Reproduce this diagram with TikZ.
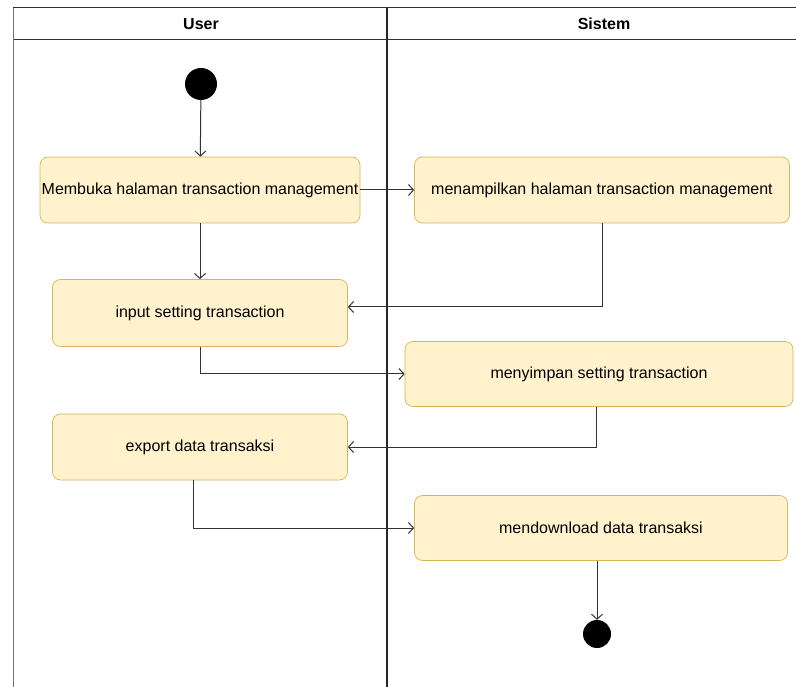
\documentclass[tikz,border=0pt]{standalone}
\usepackage{fontspec}
\setmainfont{Liberation Sans}
\usetikzlibrary{arrows.meta,positioning}
\definecolor{actFill}{HTML}{FFF2CC}
\definecolor{actLine}{HTML}{D6B656}

\begin{document}
\begin{tikzpicture}[x=1pt,y=-1pt,font=\fontsize{16}{19}\selectfont,
  act/.style={draw=actLine,fill=actFill,rounded corners=8pt,inner sep=0pt,line width=0.7pt},
  flow/.style={-{Straight Barb[length=5pt,width=11pt]},black!80,line width=1pt},
  dot/.style={circle,fill=black,inner sep=0pt}]
\useasboundingbox (0,0) rectangle (796,687);
% swimlanes
\draw[black!80,line width=1pt] (13,8) -- (796,8);
\draw[black!80,line width=1pt] (13,40) -- (796,40);
\draw[black!55,line width=0.8pt] (13,8) -- (13,687);
\draw[black!85,line width=1.8pt] (387,8) -- (387,687);
\node[font=\fontsize{16}{19}\selectfont\bfseries] (hUser) at (201,24) {User};
\node[font=\fontsize{16}{19}\selectfont\bfseries] (hSistem) at (604,24) {Sistem};
% activities
\node[dot,minimum size=32pt] (start) at (201,84) {};
\node[act,minimum width=320pt,minimum height=66pt] (membuka) at (200,190) {Membuka halaman transaction management};
\node[act,minimum width=375pt,minimum height=66pt] (menampilkan) at (602,190) {menampilkan halaman transaction management};
\node[act,minimum width=295pt,minimum height=67pt] (input) at (200,313) {input setting transaction};
\node[act,minimum width=388pt,minimum height=65pt] (menyimpan) at (599,374) {menyimpan setting transaction};
\node[act,minimum width=295pt,minimum height=66pt] (export) at (200,447) {export data transaksi};
\node[act,minimum width=373pt,minimum height=65pt] (download) at (601,528) {mendownload data transaksi};
\node[dot,minimum size=28pt] (end) at (597,634) {};
% flows
\draw[flow] (start) -- (membuka);
\draw[flow] (membuka) -- (menampilkan);
\draw[flow] (menampilkan.south) |- ([yshift=6pt]input.east);
\draw[flow] (membuka) -- (input);
\draw[flow] (input.south) |- (menyimpan.west);
\draw[flow] ([xshift=-3pt]menyimpan.south) |- (export.east);
\draw[flow] ([xshift=-7pt]export.south) |- (download.west);
\draw[flow] ([xshift=-4pt]download.south) -- (end);
\end{tikzpicture}
\end{document}
